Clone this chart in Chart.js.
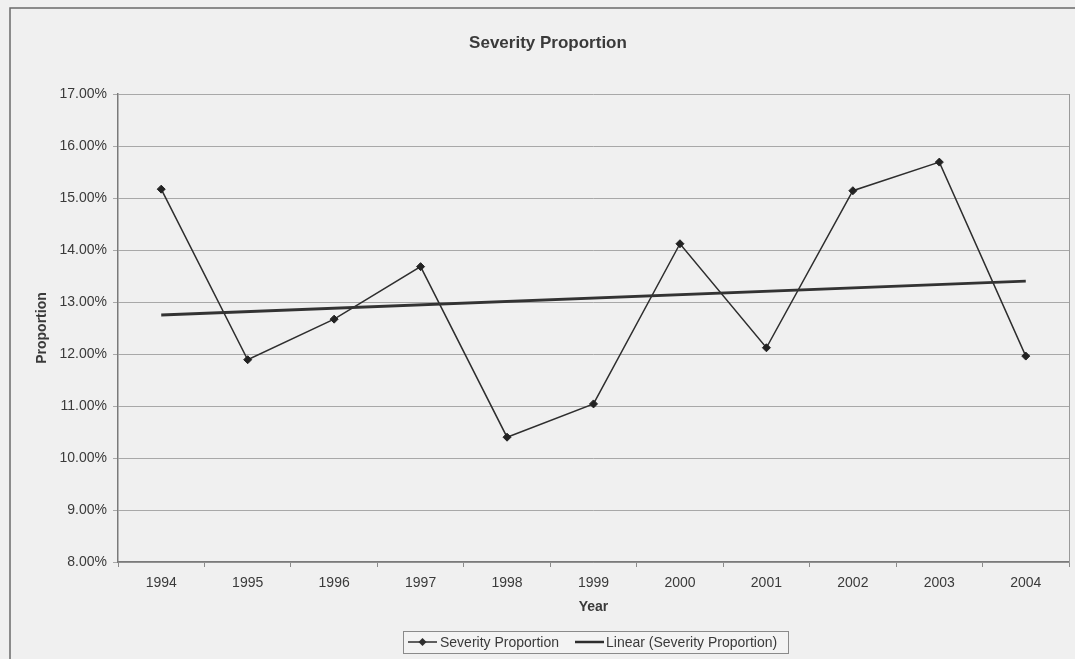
<!DOCTYPE html>
<html>
<head>
<meta charset="utf-8">
<title>Severity Proportion</title>
<script src="https://cdn.jsdelivr.net/npm/chart.js@4.4.1/dist/chart.umd.min.js"></script>
<style>
  html, body { margin: 0; padding: 0; background: #f0f0f0; }
  #wrap { width: 1075px; height: 659px; position: relative; }
</style>
</head>
<body>
<div id="wrap"><canvas id="chart" width="1075" height="659"></canvas></div>
<script>
// Yearly severity proportion (percent)
const years = ['1994', '1995', '1996', '1997', '1998', '1999', '2000', '2001', '2002', '2003', '2004'];
const severity = [15.17, 11.89, 12.67, 13.68, 10.40, 11.04, 14.12, 12.12, 15.14, 15.69, 11.96];
// Linear trend line: value at the first and last year
const trendEnds = [12.75, 13.40];
const yTicks = { min: 8, max: 17, step: 1 };

const INK = '#2e2e2e';
const TEXT = '#3a3a3a';
const FONT = '"Liberation Sans", Arial, sans-serif';

const trendData = years.map((_, i) => i === 0 ? trendEnds[0] : (i === years.length - 1 ? trendEnds[1] : null));

// Frame, title, plot border and boxed legend
const decor = {
  id: 'decor',
  beforeDraw(chart) {
    const ctx = chart.ctx;
    ctx.save();
    ctx.fillStyle = '#f0f0f0';
    ctx.fillRect(0, 0, chart.width, chart.height);
    ctx.strokeStyle = '#6a6a6a';
    ctx.lineWidth = 1.5;
    ctx.beginPath();
    ctx.moveTo(10, chart.height);
    ctx.lineTo(10, 8);
    ctx.lineTo(chart.width, 8);
    ctx.stroke();
    ctx.restore();
  },
  afterDraw(chart) {
    const ctx = chart.ctx;
    const a = chart.chartArea;
    ctx.save();
    // right edge of the plot area
    ctx.strokeStyle = '#9a9a9a';
    ctx.lineWidth = 1;
    ctx.beginPath();
    ctx.moveTo(a.right + 0.5, a.top);
    ctx.lineTo(a.right + 0.5, a.bottom);
    ctx.stroke();

    // title
    ctx.fillStyle = TEXT;
    ctx.font = 'bold 17px ' + FONT;
    ctx.textAlign = 'center';
    ctx.textBaseline = 'middle';
    ctx.fillText('Severity Proportion', 548, 43);

    // legend
    const bx = 403, by = 631, bw = 385, bh = 22;
    ctx.fillStyle = '#f3f3f3';
    ctx.fillRect(bx, by, bw, bh);
    ctx.strokeStyle = '#8a8a8a';
    ctx.lineWidth = 1;
    ctx.strokeRect(bx + 0.5, by + 0.5, bw, bh);
    const cy = by + bh / 2;
    ctx.font = '14px ' + FONT;
    ctx.textAlign = 'left';
    ctx.fillStyle = TEXT;
    // item 1: line with diamond marker
    ctx.strokeStyle = INK;
    ctx.lineWidth = 1.5;
    ctx.beginPath();
    ctx.moveTo(408, cy);
    ctx.lineTo(437, cy);
    ctx.stroke();
    ctx.fillStyle = INK;
    ctx.beginPath();
    ctx.moveTo(422.5, cy - 4);
    ctx.lineTo(426.5, cy);
    ctx.lineTo(422.5, cy + 4);
    ctx.lineTo(418.5, cy);
    ctx.closePath();
    ctx.fill();
    ctx.fillStyle = TEXT;
    ctx.fillText(chart.data.datasets[0].label, 440, cy + 1);
    // item 2: thick line
    ctx.strokeStyle = INK;
    ctx.lineWidth = 2.5;
    ctx.beginPath();
    ctx.moveTo(575, cy);
    ctx.lineTo(604, cy);
    ctx.stroke();
    ctx.fillText(chart.data.datasets[1].label, 606, cy + 1);
    ctx.restore();
  }
};

new Chart(document.getElementById('chart'), {
  type: 'line',
  data: {
    labels: years,
    datasets: [
      {
        label: 'Severity Proportion',
        data: severity,
        borderColor: INK,
        borderWidth: 1.5,
        backgroundColor: INK,
        pointStyle: 'rectRot',
        pointRadius: 4,
        pointBackgroundColor: '#222',
        pointBorderColor: '#222',
        pointBorderWidth: 1,
        tension: 0,
        fill: false,
        order: 2
      },
      {
        label: 'Linear (Severity Proportion)',
        data: trendData,
        spanGaps: true,
        borderColor: '#333',
        borderWidth: 2.8,
        pointRadius: 0,
        tension: 0,
        fill: false,
        order: 1
      }
    ]
  },
  options: {
    responsive: false,
    animation: false,
    events: [],
    layout: { padding: { top: 94, left: 0, right: 6, bottom: 37 } },
    plugins: {
      legend: { display: false },
      title: { display: false },
      tooltip: { enabled: false }
    },
    scales: {
      x: {
        type: 'category',
        offset: true,
        grid: {
          display: true,
          offset: true,
          drawOnChartArea: false,
          drawTicks: true,
          tickLength: 5,
          color: '#8a8a8a'
        },
        border: { display: true, color: '#7a7a7a', width: 1.5 },
        ticks: {
          color: TEXT,
          font: { family: FONT, size: 14 },
          padding: 8,
          maxRotation: 0,
          autoSkip: false
        },
        title: {
          display: true,
          text: 'Year',
          color: TEXT,
          font: { family: FONT, size: 14, weight: 'bold' },
          padding: { top: 0, bottom: 6 }
        },
        afterFit(scale) { scale.height = 60; }
      },
      y: {
        min: yTicks.min,
        max: yTicks.max,
        grid: {
          color: '#a8a8a8',
          lineWidth: 1,
          drawTicks: true,
          tickLength: 5
        },
        border: { display: true, color: '#7a7a7a', width: 1.5 },
        ticks: {
          stepSize: yTicks.step,
          color: TEXT,
          font: { family: FONT, size: 14 },
          padding: 6,
          callback: (v) => Number(v).toFixed(2) + '%'
        },
        title: {
          display: true,
          text: 'Proportion',
          color: TEXT,
          font: { family: FONT, size: 14, weight: 'bold' },
          padding: { top: 34, bottom: 0 }
        },
        afterFit(scale) { scale.width = 118; }
      }
    }
  },
  plugins: [decor]
});
</script>
</body>
</html>
